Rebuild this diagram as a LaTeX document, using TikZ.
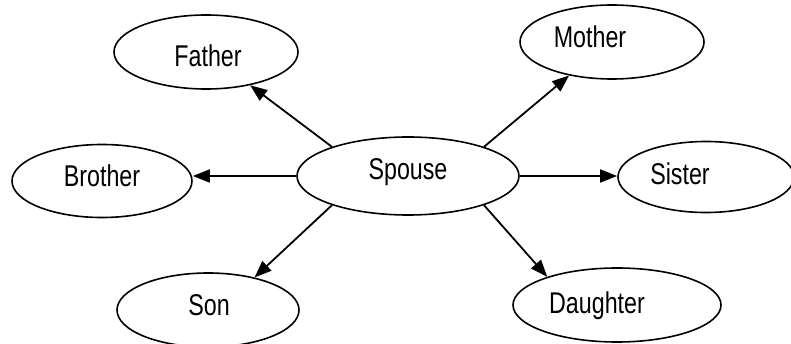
\documentclass[tikz,border=0pt]{standalone}
\usepackage{fontspec}
\setmainfont[FakeStretch=0.775]{Liberation Sans}
\usetikzlibrary{shapes.geometric,arrows.meta}
\begin{document}
\begin{tikzpicture}[x=1pt,y=-1pt,
  oval/.style={draw,shape=ellipse,line width=1.6pt,inner sep=0pt},
  lbl/.style={anchor=base,inner sep=0pt,font=\fontsize{30}{31}\selectfont},
  arr/.style={line width=1.8pt,-{Triangle[length=17pt,width=13pt]}}]
\useasboundingbox (0,0) rectangle (791,344);
\node[oval,minimum width=184pt,minimum height=74pt] (fa) at (206,52) {};
\node[oval,minimum width=184pt,minimum height=74pt] (mo) at (612,42) {};
\node[oval,minimum width=180pt,minimum height=73pt] (br) at (102,181) {};
\node[oval,minimum width=222pt,minimum height=78pt] (sp) at (408,176) {};
\node[oval,minimum width=176pt,minimum height=71pt] (si) at (706,177) {};
\node[oval,minimum width=182pt,minimum height=74pt] (so) at (208,310) {};
\node[oval,minimum width=208pt,minimum height=74pt] (da) at (617,305) {};
\node[lbl] (tfa) at (208,67) {Father};
\node[lbl] (tmo) at (590,48) {Mother};
\node[lbl] (tbr) at (102,187) {Brother};
\node[lbl] (tsp) at (408,180) {Spouse};
\node[lbl] (tsi) at (680,185) {Sister};
\node[lbl] (tso) at (209,315) {Son};
\node[lbl] (tda) at (597,313) {Daughter};
\draw[arr] (sp.159) -- (fa.-37);
\draw[arr] (sp.21) -- (mo.218);
\draw[arr] (sp.201) -- (so.35);
\draw[arr] (sp.339) -- (da.158);
\draw[arr] (sp.west) -- (sp.west -| br.east);
\draw[arr] (sp.east) -- (sp.east -| si.west);
\end{tikzpicture}
\end{document}
